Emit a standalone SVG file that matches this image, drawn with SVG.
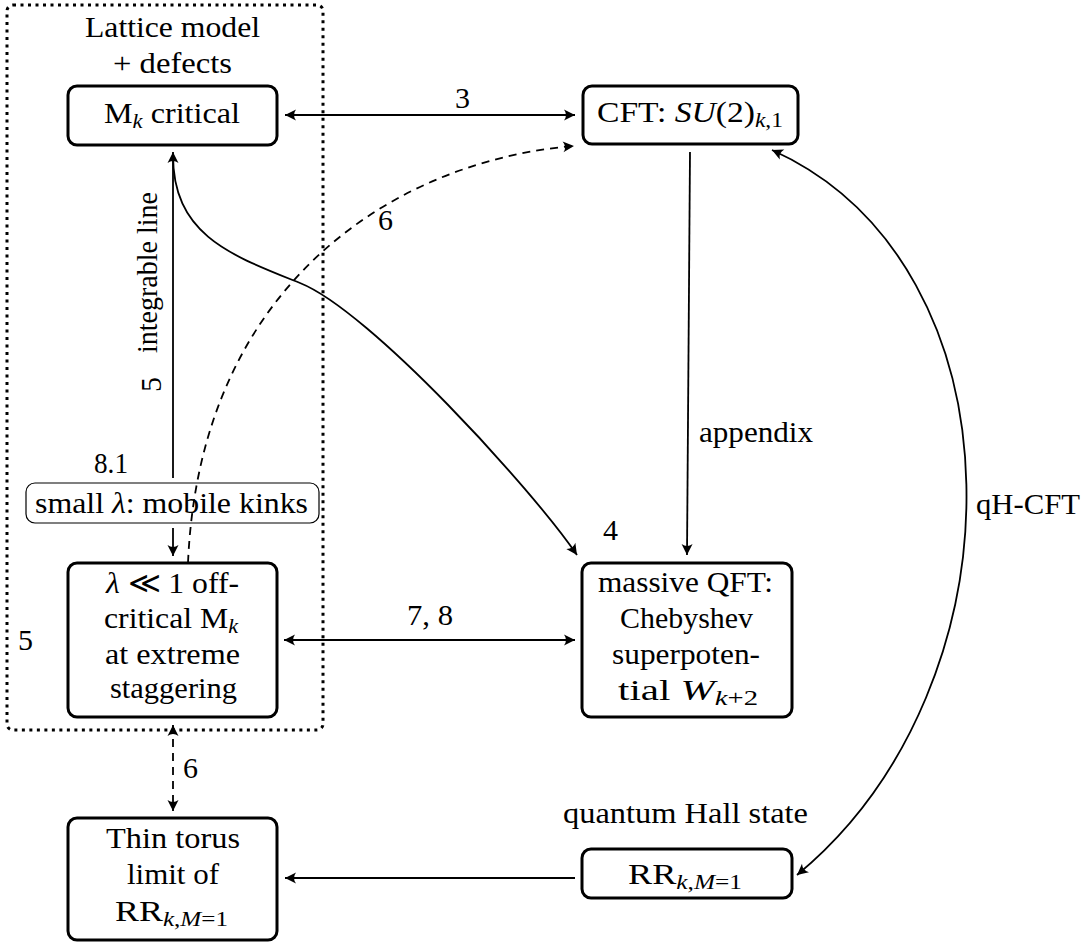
<svg xmlns="http://www.w3.org/2000/svg" width="1087" height="943" viewBox="0 0 1087 943">
<defs>
<style>
.t{font-family:"Liberation Serif","Times New Roman",serif;font-size:30px;fill:#000}
.i{font-style:italic}
.s{font-size:21px}
.box{fill:#fff;stroke:#000;stroke-width:3}
.thin{fill:none;stroke:#000;stroke-width:1.2}
.c{fill:none;stroke:#000;stroke-width:1.8}
.d{fill:none;stroke:#000;stroke-width:1.8;stroke-dasharray:8 6}
.frame{fill:none;stroke:#000;stroke-width:3;stroke-dasharray:3 4.5}
</style>
<marker id="ah" viewBox="-12 -7 14 14" refX="0" refY="0" markerWidth="14" markerHeight="14" markerUnits="userSpaceOnUse" orient="auto-start-reverse">
<path d="M0,0 L-11,-5.5 Q-7,0 -11,5.5 Z" fill="#000"/>
</marker>
</defs>
<rect width="1087" height="943" fill="#fff"/>

<g id="frame">
<rect class="frame" x="7" y="5" width="316" height="725" rx="6"/>
<text class="t" x="85" y="37" textLength="175" lengthAdjust="spacingAndGlyphs">Lattice model</text>
<text class="t" x="113" y="73" textLength="119" lengthAdjust="spacingAndGlyphs">+ defects</text>
<text class="t" x="18" y="650" textLength="15" lengthAdjust="spacingAndGlyphs">5</text>
</g>

<g id="connectors">
<line class="c" x1="285" y1="115" x2="575" y2="115" marker-start="url(#ah)" marker-end="url(#ah)"/>
<line class="c" x1="284" y1="640" x2="575" y2="640" marker-start="url(#ah)" marker-end="url(#ah)"/>
<line class="c" x1="690" y1="152" x2="687" y2="555" marker-end="url(#ah)"/>
<line class="c" x1="173" y1="478" x2="173" y2="152" marker-end="url(#ah)"/>
<line class="c" x1="173" y1="528" x2="173" y2="556" marker-end="url(#ah)"/>
<line class="d" x1="173" y1="725" x2="173" y2="811" marker-start="url(#ah)" marker-end="url(#ah)"/>
<line class="c" x1="575" y1="878" x2="285" y2="878" marker-end="url(#ah)"/>
<path class="c" d="M173,155 C173,235 230,255 300,283 C370,311 532,489 577,555" marker-end="url(#ah)"/>
<path class="d" d="M188,563 C200,280 400,160 574,146" marker-end="url(#ah)"/>
<path class="c" d="M772,150 C1027,265 1027,685 797,875" marker-start="url(#ah)" marker-end="url(#ah)"/>
<text class="t" x="455" y="108" textLength="15" lengthAdjust="spacingAndGlyphs">3</text>
<text class="t" x="407" y="625" textLength="46" lengthAdjust="spacingAndGlyphs">7, 8</text>
<text class="t" x="699" y="442" textLength="114" lengthAdjust="spacingAndGlyphs">appendix</text>
<text class="t" x="603" y="540" textLength="15" lengthAdjust="spacingAndGlyphs">4</text>
<text class="t" x="378" y="230" textLength="15" lengthAdjust="spacingAndGlyphs">6</text>
<text class="t" x="183" y="778" textLength="15" lengthAdjust="spacingAndGlyphs">6</text>
<text class="t" x="976" y="514" textLength="104" lengthAdjust="spacingAndGlyphs">qH-CFT</text>
<text class="t" x="94" y="473" textLength="34" lengthAdjust="spacingAndGlyphs">8.1</text>
<text class="t" transform="translate(157,353) rotate(-90)" x="0" y="0" textLength="161" lengthAdjust="spacingAndGlyphs">integrable line</text>
<text class="t" transform="translate(161,392) rotate(-90)" x="0" y="0" textLength="15" lengthAdjust="spacingAndGlyphs">5</text>
</g>

<g id="node-mk">
<rect class="box" x="68" y="86" width="209" height="59" rx="9"/>
<text class="t" x="104" y="123" textLength="136" lengthAdjust="spacingAndGlyphs">M<tspan class="s i" dy="5">k</tspan><tspan dy="-5"> critical</tspan></text>
</g>

<g id="node-cft">
<rect class="box" x="583" y="86" width="215" height="58" rx="9"/>
<text class="t" x="597" y="122" textLength="186" lengthAdjust="spacingAndGlyphs">CFT: <tspan class="i">SU</tspan>(2)<tspan class="s i" dy="5">k</tspan><tspan class="s">,1</tspan></text>
</g>

<g id="node-small">
<rect class="thin" x="26" y="483" width="293" height="40" rx="9"/>
<text class="t" x="35" y="513" textLength="273" lengthAdjust="spacingAndGlyphs">small <tspan class="i">λ</tspan>: mobile kinks</text>
</g>

<g id="node-offcrit">
<rect class="box" x="68" y="563" width="209" height="154" rx="9"/>
<text class="t" x="106" y="593" textLength="133" lengthAdjust="spacingAndGlyphs"><tspan class="i">λ</tspan> ≪ 1 off-</text>
<text class="t" x="104" y="628" textLength="134" lengthAdjust="spacingAndGlyphs">critical M<tspan class="s i" dy="5">k</tspan></text>
<text class="t" x="105" y="664" textLength="135" lengthAdjust="spacingAndGlyphs">at extreme</text>
<text class="t" x="110" y="698" textLength="127" lengthAdjust="spacingAndGlyphs">staggering</text>
</g>

<g id="node-qft">
<rect class="box" x="582" y="563" width="210" height="154" rx="9"/>
<text class="t" x="598" y="592" textLength="175" lengthAdjust="spacingAndGlyphs">massive QFT:</text>
<text class="t" x="620" y="628" textLength="133" lengthAdjust="spacingAndGlyphs">Chebyshev</text>
<text class="t" x="612" y="664" textLength="148" lengthAdjust="spacingAndGlyphs">superpoten-</text>
<text class="t" x="618" y="700" textLength="140" lengthAdjust="spacingAndGlyphs">tial <tspan class="i">W</tspan><tspan class="s i" dy="5">k</tspan><tspan class="s">+2</tspan></text>
</g>

<g id="node-thin">
<rect class="box" x="68" y="818" width="209" height="122" rx="9"/>
<text class="t" x="106" y="848" textLength="134" lengthAdjust="spacingAndGlyphs">Thin torus</text>
<text class="t" x="127" y="884" textLength="92" lengthAdjust="spacingAndGlyphs">limit of</text>
<text class="t" x="115" y="921" textLength="113" lengthAdjust="spacingAndGlyphs">RR<tspan class="s i" dy="5">k</tspan><tspan class="s">,</tspan><tspan class="s i">M</tspan><tspan class="s">=1</tspan></text>
</g>

<g id="node-rr">
<text class="t" x="563" y="823" textLength="245" lengthAdjust="spacingAndGlyphs">quantum Hall state</text>
<rect class="box" x="582" y="849" width="210" height="49" rx="9"/>
<text class="t" x="628" y="884" textLength="114" lengthAdjust="spacingAndGlyphs">RR<tspan class="s i" dy="5">k</tspan><tspan class="s">,</tspan><tspan class="s i">M</tspan><tspan class="s">=1</tspan></text>
</g>
</svg>
